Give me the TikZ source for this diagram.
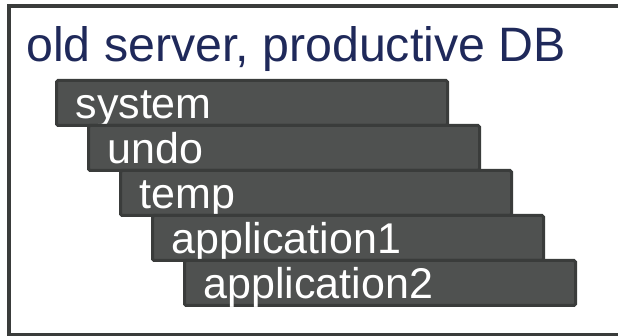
\documentclass[tikz,border=0pt]{standalone}
\usepackage{fontspec}
\setmainfont{Liberation Sans}
\usetikzlibrary{calc}
\definecolor{dbnavy}{HTML}{1F295A}
\definecolor{tsfill}{HTML}{4F5150}
\definecolor{tsedge}{HTML}{3A3C3B}
\tikzset{
  tsbar/.style={draw=tsedge, line width=3pt, fill=tsfill, rounded corners=1.5pt,
    anchor=north west, outer sep=0pt, inner ysep=0pt, inner xsep=19pt,
    minimum width=391pt, text width=353pt, align=left,
    text height=38pt, text depth=7pt, text=white,
    font=\fontsize{43}{43}\selectfont},
  srvbox/.style={draw=tsedge, line width=3.8pt}
}

\begin{document}
\begin{tikzpicture}[x=1pt,y=-1pt]
        \useasboundingbox (0,0) rectangle (618,336);
        \clip (0,0) rectangle (618,336);
        \coordinate (S1) at (8.7, 6);
        \coordinate (S2) at (640, 334.5);
        \draw[srvbox] (S1 -| S2) -- (S1) |- (S2);
        \node[anchor=base west, inner sep=0pt, text=dbnavy,
              font=\fontsize{48.3}{48}\selectfont] (title) at (26, 62) {old server, productive DB};
        \coordinate (A) at (56.5, 80.5);
        \coordinate (B) at (88.5, 125.5);
        \coordinate (C) at (120.5, 170.5);
        \coordinate (D) at (152.5, 215.5);
        \coordinate (E) at (184.5, 260.5);
        \node[tsbar] (system) at (A) {system};
        \node[tsbar] (undo) at (B) {undo};
        \node[tsbar] (temp) at (C) {temp};
        \node[tsbar] (appone) at (D) {application1};
        \node[tsbar] (apptwo) at (E) {application2};
\end{tikzpicture}
\end{document}
